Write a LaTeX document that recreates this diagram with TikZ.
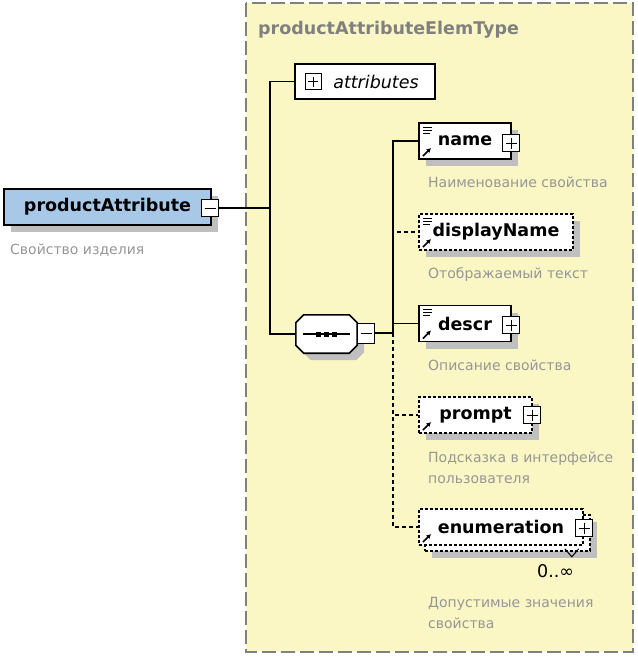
\documentclass[tikz,border=0pt]{standalone}
\usepackage{fontspec}
\setmainfont{DejaVu Sans}
\usepackage{xcolor}
\usepackage{tikz}
\usetikzlibrary{calc, positioning, shadows, arrows.meta}

\definecolor{typefill}{RGB}{250,247,196}
\definecolor{elemblue}{RGB}{168,200,232}
\definecolor{notegray}{RGB}{150,150,150}
\definecolor{titlegray}{RGB}{128,128,128}

% small marks inside the element boxes
\newcommand\refarrow{\draw[solid, line width=1.5pt, -{Latex[length=4.5pt,width=5pt]}]
    ([shift={(4pt,3pt)}]path picture bounding box.south west) -- ++(8pt,8pt);}
\newcommand\doclines{\foreach \k/\w in {4/9,7/9,10/7}
    \draw[solid, line width=1pt] ([shift={(4pt,-\k pt)}]path picture bounding box.north west) -- ++(\w pt,0pt);}

\begin{document}
\begin{tikzpicture}[>=latex, x=1pt, y=-1pt,
    lbl/.style={font=\fontsize{17.5}{20}\selectfont\bfseries},
    note/.style={font=\fontsize{14}{21}\selectfont, text=notegray, anchor=base west, inner sep=0, align=left},
    boxshadow/.style={drop shadow={shadow xshift=7pt, shadow yshift=-7pt, fill=black!25, opacity=1}},
    elem/.style={draw, fill=white, line width=1.6pt, minimum height=36pt, inner sep=0, lbl},
    opt/.style={elem, dash pattern=on 3pt off 2pt},
    ref/.style={path picture={\refarrow}},
    refdoc/.style={path picture={\refarrow\doclines}},
    pm/.style={draw, fill=white, solid, line width=1pt, minimum width=17pt, minimum height=17pt, inner sep=0},
    plusbox/.style={pm, path picture={\draw[line width=1pt]
        ([xshift=3pt]path picture bounding box.west) -- ([xshift=-3pt]path picture bounding box.east)
        ([yshift=-3pt]path picture bounding box.north) -- ([yshift=3pt]path picture bounding box.south);}},
    minusbox/.style={pm, path picture={\draw[line width=1pt]
        ([xshift=3pt]path picture bounding box.west) -- ([xshift=-3pt]path picture bounding box.east);}},
    seqbox/.style={minimum width=61pt, minimum height=38pt, inner sep=0},
    octagon/.style={insert path={([xshift=8pt]#1.north west) -- ([xshift=-8pt]#1.north east)
        -- ([yshift=-8pt]#1.north east) -- ([yshift=8pt]#1.south east) -- ([xshift=-8pt]#1.south east)
        -- ([xshift=8pt]#1.south west) -- ([yshift=8pt]#1.south west) -- ([yshift=-8pt]#1.north west) -- cycle}},
    link/.style={line width=1.5pt},
    optlink/.style={link, dash pattern=on 4pt off 3pt}]
    \useasboundingbox (0,0) rectangle (638,657);

    % complex type frame
    \draw[fill=typefill, draw=titlegray, line width=1.5pt, dash pattern=on 14pt off 5pt] (246,3) rectangle (633,652);
    \node[lbl, text=titlegray, anchor=base west, inner sep=0] (title) at (258,34) {productAttributeElemType};

    % root element
    \node[elem, boxshadow, fill=elemblue, minimum width=207pt] (pa) at (107.5,207) {productAttribute};
    \node[minusbox] (pamin) at (210,208) {};
    \node[note] (panote) at (10,254) {Свойство изделия};

    % attributes
    \node[draw, fill=white, line width=1.2pt, minimum width=140pt, minimum height=35pt, inner sep=0,
        font=\fontsize{17.5}{20}\selectfont\itshape] (attr) at (365,81.5) {\hspace{22pt}attributes};
    \node[plusbox, minimum width=16pt, minimum height=16pt] (attrplus) at (313,81.5) {};

    % sequence compositor
    \node[seqbox] (seq) at (326.5,334) {};
    \fill[black!25, transform canvas={shift={(7pt,-7pt)}}] [octagon=seq];
    \draw[fill=white, line width=1.6pt] [octagon=seq];
    \draw[line width=1.6pt] ([xshift=7pt]seq.west) -- ([xshift=-7pt]seq.east);
    \foreach \k in {-8,0,8}
        \fill ([shift={(\k pt-2.5pt,-2.5pt)}]seq.center) rectangle ++(5pt,5pt);
    \node[minusbox, minimum height=20pt] (seqmin) at (366,333) {};

    % child elements
    \node[elem, boxshadow, refdoc, minimum width=92pt] (name) at (465,141) {name};
    \node[plusbox] (nameplus) at (511,143) {};
    \node[note] (namenote) at (428,187) {Наименование свойства};

    \node[opt, boxshadow, refdoc, minimum width=154pt] (dname) at (496,232) {displayName};
    \node[note] (dnamenote) at (428,278) {Отображаемый текст};

    \node[elem, boxshadow, refdoc, minimum width=92pt] (descr) at (465,323.5) {descr};
    \node[plusbox] (descrplus) at (511,325) {};
    \node[note] (descrnote) at (428,370) {Описание свойства};

    \node[opt, boxshadow, ref, minimum width=113pt] (prompt) at (475.5,415) {prompt};
    \node[plusbox] (promptplus) at (532,415) {};
    \node[note] (promptnote) at (428,483) {Подсказка в интерфейсе\\пользователя};

    \node[opt, boxshadow, minimum width=165pt] (enumback) at (507.5,533) {};
    \node[opt, ref, minimum width=164pt] (enum) at (501,527) {enumeration};
    \node[plusbox] (enumplus) at (584,528) {};
    \draw[line width=1pt] ([xshift=-26pt,yshift=3pt]enumback.south east) -- ++(7,8) -- ++(7,-8);
    \node[anchor=base west, inner sep=0, font=\fontsize{17.5}{20}\selectfont] (occurs) at (537,577) {0..∞};
    \node[note] (enumnote) at (428,628) {Допустимые значения\\свойства};

    % connectors
    \coordinate (jt) at (270,208);
    \coordinate (bus) at (393,333);
    \draw[link] (pamin.east) -- (jt);
    \draw[link] (jt) |- (attr.west);
    \draw[link] (jt) |- (seq.west);
    \draw[link] (seqmin.east) -- (bus);
    \draw[link] (bus) |- (name.west);
    \draw[link] (bus) |- (descr.west);
    \draw[optlink] (bus) |- (dname.west);
    \draw[optlink] (bus) |- (prompt.west);
    \draw[optlink] (bus) |- (enum.west);
\end{tikzpicture}
\end{document}
